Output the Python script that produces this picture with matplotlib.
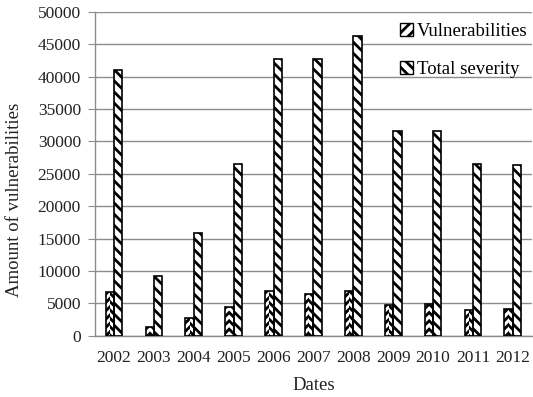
import matplotlib
matplotlib.use("Agg")
import matplotlib.pyplot as plt
import numpy as np
from matplotlib.patches import Patch

years = ["2002", "2003", "2004", "2005", "2006", "2007", "2008", "2009", "2010", "2011", "2012"]
vulnerabilities = [6700, 1400, 2700, 4400, 6900, 6400, 6900, 4700, 4900, 4000, 4200]
total_severity = [41000, 9300, 15900, 26600, 42700, 42700, 46300, 31600, 31600, 26600, 26400]

plt.rcParams["font.family"] = ["Liberation Serif", "DejaVu Serif"]
plt.rcParams["hatch.linewidth"] = 2.0
plt.rcParams["hatch.color"] = "black"

fig = plt.figure(figsize=(5.33, 3.97), dpi=100)
ax = fig.add_axes([0.178, 0.154, 0.82, 0.816])

x = np.arange(len(years))
w = 0.21
grey = "#8c8c8c"
txt = "#222222"

# Vulnerabilities: chevron fill built from two mirrored diagonal halves
ax.bar(x - w * 0.75, vulnerabilities, w / 2, color="white", hatch="////",
       edgecolor="black", linewidth=0, zorder=3)
ax.bar(x - w * 0.25, vulnerabilities, w / 2, color="white", hatch="\\\\\\\\",
       edgecolor="black", linewidth=0, zorder=3)
ax.bar(x - w / 2, vulnerabilities, w, fill=False, edgecolor="black",
       linewidth=1.2, zorder=4)

# Total severity: wide downward diagonal stripes
ax.bar(x + w / 2, total_severity, w, color="white", hatch="\\\\\\",
       edgecolor="black", linewidth=1.2, zorder=3)

ax.set_xlim(-0.48, len(years) - 0.52)
ax.set_ylim(0, 50000)
ax.set_yticks(np.arange(0, 50001, 5000))
ax.set_xticks(x)
ax.set_xticklabels(years, fontsize=12.5)
ax.tick_params(axis="y", labelsize=12.5, length=5, color=grey, pad=5)
ax.tick_params(axis="x", length=0, pad=10)
for lbl in ax.get_yticklabels() + ax.get_xticklabels():
    lbl.set_color(txt)

ax.yaxis.grid(True, color=grey, linewidth=1.0, zorder=0)
ax.set_axisbelow(True)
for side in ("top", "right"):
    ax.spines[side].set_visible(False)
for side in ("left", "bottom"):
    ax.spines[side].set_color(grey)
    ax.spines[side].set_linewidth(1.0)

ax.set_ylabel("Amount of vulnerabilities", fontsize=13.5, color=txt, labelpad=8)
ax.yaxis.set_label_coords(-0.165, 0.42)
ax.set_xlabel("Dates", fontsize=13.5, color=txt, labelpad=8)

handles = [
    Patch(facecolor="white", edgecolor="black", hatch="///", linewidth=1.0),
    Patch(facecolor="white", edgecolor="black", hatch="\\\\\\", linewidth=1.0),
]
ax.legend(handles, ["Vulnerabilities", "Total severity"], loc="upper right",
          bbox_to_anchor=(1.015, 1.0), frameon=False, fontsize=13.5,
          handlelength=0.7, handleheight=0.7, handletextpad=0.2,
          labelspacing=1.1, borderaxespad=0.2)

fig.savefig("out.png", dpi=100)
